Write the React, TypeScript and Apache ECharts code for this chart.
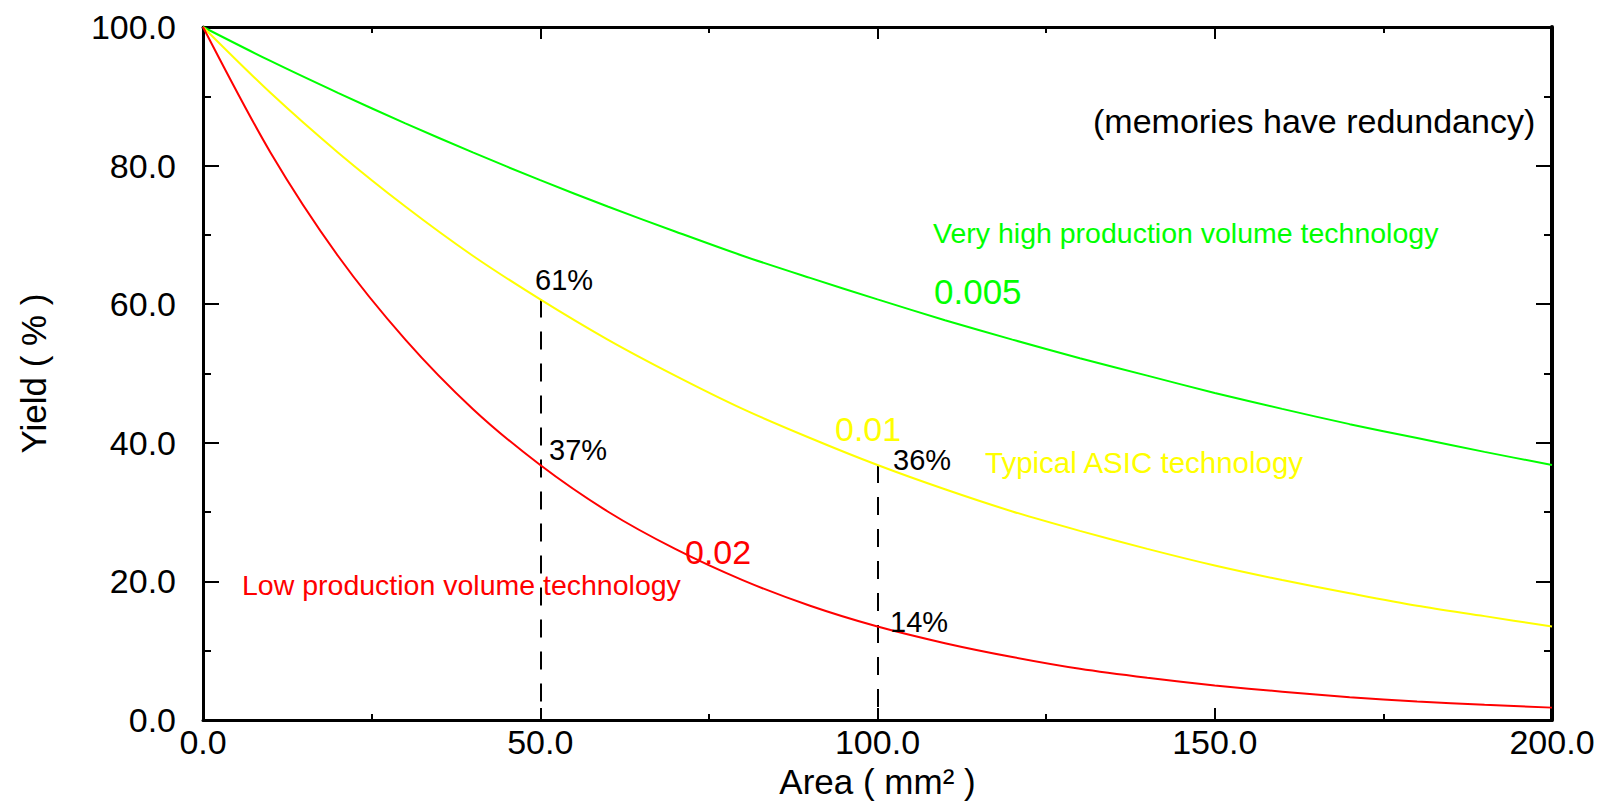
import React, { useEffect, useRef } from "react";
import * as echarts from "echarts";

// Area (mm^2) sampled along the x axis
const AREAS = [0, 10, 20, 30, 40, 50, 60, 70, 80, 90, 100, 110, 120, 130, 140, 150, 160, 170, 180, 190, 200];
// Yield (%)
const GREEN_YIELD = [100, 95.1, 90.5, 86.1, 81.9, 77.9, 74.1, 70.5, 67.0, 63.8, 60.7, 57.7, 54.9, 52.2, 49.7, 47.2, 44.9, 42.7, 40.7, 38.7, 36.8];
const YELLOW_YIELD = [100, 90.5, 81.9, 74.1, 67.0, 60.7, 54.9, 49.7, 44.9, 40.7, 36.8, 33.3, 30.1, 27.3, 24.7, 22.3, 20.2, 18.3, 16.5, 15.0, 13.5];
const RED_YIELD = [100, 81.9, 67.0, 54.9, 44.9, 36.8, 30.1, 24.7, 20.2, 16.5, 13.5, 11.1, 9.1, 7.4, 6.1, 5.0, 4.1, 3.3, 2.7, 2.2, 1.8];
// Areas where dashed guides are drawn (down from the yellow curve)
const GUIDE_AREAS = [50, 100];

const FONT = "'Liberation Sans', Arial, Helvetica, sans-serif";

type Note = { text: string; x: number; y: number; color: string; size: number };
const NOTES: Note[] = [
  { text: "(memories have redundancy)", x: 1093, y: 121, color: "#000000", size: 34 },
  { text: "Very high production volume technology", x: 933, y: 233, color: "#00ff00", size: 28.5 },
  { text: "0.005", x: 934, y: 291, color: "#00ff00", size: 35 },
  { text: "61%", x: 535, y: 280, color: "#000000", size: 29 },
  { text: "0.01", x: 835, y: 429, color: "#ffff00", size: 34 },
  { text: "37%", x: 549, y: 450, color: "#000000", size: 29 },
  { text: "36%", x: 893, y: 460, color: "#000000", size: 29 },
  { text: "Typical ASIC technology", x: 985, y: 462, color: "#ffff00", size: 29.5 },
  { text: "0.02", x: 685, y: 552, color: "#ff0000", size: 34 },
  { text: "Low production volume technology", x: 242, y: 585, color: "#ff0000", size: 28.5 },
  { text: "14%", x: 890, y: 622, color: "#000000", size: 29 },
];

const pairs = (ys: number[]) => AREAS.map((a, i) => [a, ys[i]]);

function axisX(position: "bottom" | "top", main: boolean) {
  return {
    type: "value",
    min: 0,
    max: 200,
    interval: 50,
    position,
    axisLine: { show: true, onZero: false, lineStyle: { color: "#000", width: 3 } },
    axisTick: { show: true, inside: true, length: 12, lineStyle: { color: "#000", width: 2 } },
    minorTick: { show: true, splitNumber: 2, length: 6, lineStyle: { color: "#000", width: 2 } },
    splitLine: { show: false },
    axisLabel: main
      ? { show: true, formatter: (v: number) => v.toFixed(1), color: "#000", fontSize: 34, fontFamily: FONT, margin: 5 }
      : { show: false },
    ...(main
      ? {
          name: "Area ( mm² )",
          nameLocation: "middle",
          nameGap: 34,
          nameTextStyle: { color: "#000", fontSize: 35, fontFamily: FONT },
        }
      : {}),
  };
}

function axisY(position: "left" | "right", main: boolean) {
  return {
    type: "value",
    min: 0,
    max: 100,
    interval: 20,
    position,
    axisLine: { show: true, onZero: false, lineStyle: { color: "#000", width: main ? 3 : 4 } },
    axisTick: { show: true, inside: true, length: 16, lineStyle: { color: "#000", width: 2 } },
    minorTick: { show: true, splitNumber: 2, length: 8, lineStyle: { color: "#000", width: 2 } },
    splitLine: { show: false },
    axisLabel: main
      ? { show: true, formatter: (v: number) => v.toFixed(1), color: "#000", fontSize: 34, fontFamily: FONT, margin: 27 }
      : { show: false },
    ...(main
      ? {
          name: "Yield ( % )",
          nameLocation: "middle",
          nameGap: 152,
          nameTextStyle: { color: "#000", fontSize: 35, fontFamily: FONT },
        }
      : {}),
  };
}

export default function App() {
  const ref = useRef<HTMLDivElement>(null);
  useEffect(() => {
    if (!ref.current) return;
    const chart = echarts.init(ref.current, null, { renderer: "svg" });
    const guideData = GUIDE_AREAS.map((a) => {
      const idx = AREAS.indexOf(a);
      return [{ coord: [a, YELLOW_YIELD[idx]] }, { coord: [a, 0] }];
    });
    const lineSeries = (name: string, color: string, ys: number[], extra: any = {}) => ({
      name,
      type: "line",
      data: pairs(ys),
      xAxisIndex: 0,
      yAxisIndex: 0,
      smooth: 0.3,
      symbol: "none",
      lineStyle: { color, width: 2 },
      z: 3,
      ...extra,
    });
    chart.setOption({
      animation: false,
      backgroundColor: "#ffffff",
      grid: { left: 203, right: 57, top: 27, bottom: 73, containLabel: false },
      xAxis: [axisX("bottom", true), axisX("top", false)],
      yAxis: [axisY("left", true), axisY("right", false)],
      series: [
        lineSeries("0.005", "#00ff00", GREEN_YIELD),
        lineSeries("0.01", "#ffff00", YELLOW_YIELD, {
          markLine: {
            silent: true,
            symbol: ["none", "none"],
            label: { show: false },
            lineStyle: { color: "#000", width: 2, type: [18, 14] },
            data: guideData,
            z: 2,
          },
        }),
        lineSeries("0.02", "#ff0000", RED_YIELD),
      ],
      graphic: NOTES.map((n) => ({
        type: "text",
        x: n.x,
        y: n.y,
        z: 10,
        style: {
          text: n.text,
          fill: n.color,
          fontSize: n.size,
          fontFamily: FONT,
          align: "left",
          verticalAlign: "middle",
        },
      })),
    });
    return () => chart.dispose();
  }, []);
  return <div ref={ref} style={{ width: 1609, height: 804, position: "absolute", left: 0, top: 0 }} />;
}
